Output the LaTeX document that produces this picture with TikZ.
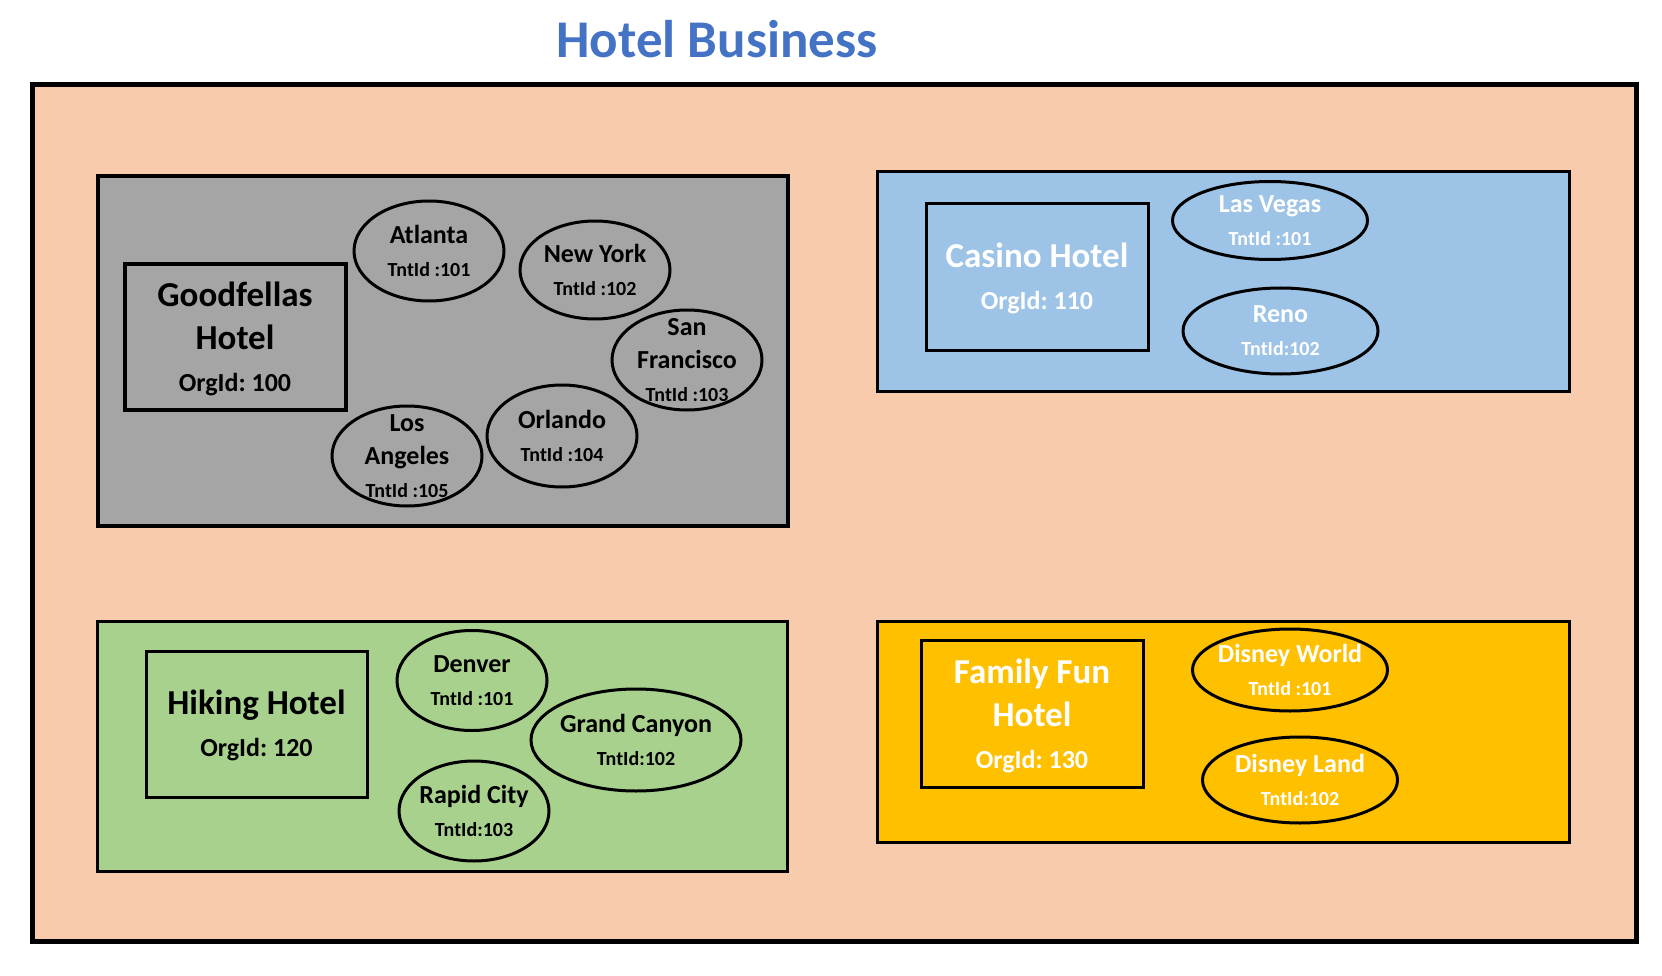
\documentclass[tikz,border=0pt]{standalone}
\usepackage{fontspec}
\setmainfont{Carlito}
\usetikzlibrary{shapes.geometric}
\definecolor{peach}{HTML}{F8CBAD}
\definecolor{panelgray}{HTML}{A5A5A5}
\definecolor{panelblue}{HTML}{9DC3E6}
\definecolor{panelgreen}{HTML}{A9D18E}
\definecolor{panelorange}{HTML}{FFC000}
\definecolor{titleblue}{HTML}{4472C4}
\newcommand\tnt[1]{{\fontsize{20}{24}\selectfont #1}}
\newcommand\org[1]{{\fontsize{26}{30}\selectfont #1}}
\frenchspacing
\begin{document}
\begin{tikzpicture}[x=1pt,y=-1pt,
  panel/.style={draw=black, rectangle, inner sep=0pt, line width=3pt},
  hotelbox/.style={draw=black, rectangle, inner sep=0pt, line width=3pt},
  city/.style={draw=black, ellipse, inner sep=0pt, line width=3pt},
  citytext/.style={font=\bfseries\fontsize{26}{33}\selectfont, align=center, inner sep=0pt},
  hoteltext/.style={font=\bfseries\fontsize{35}{43}\selectfont, align=center, inner sep=0pt, yshift=-1.5pt},
  whitetext/.style={text=white}
]
\useasboundingbox (0,0) rectangle (1662,976);
\node[font=\bfseries\fontsize{53}{60}\selectfont, text=titleblue, inner sep=0pt] (title) at (717,39) {Hotel Business};
\node[panel, fill=peach, line width=5pt, minimum width=1604pt, minimum height=856pt] (outer) at (834,513) {};

% Goodfellas
\node[panel, fill=panelgray, line width=4pt, minimum width=690pt, minimum height=350pt] (gpanel) at (442.5,351) {};
\node[hotelbox, line width=4pt, minimum width=221pt, minimum height=146pt,
  label={[hoteltext]center:{Goodfellas\\Hotel\\[-1pt]\org{OrgId: 100}}}] (ghotel) at (235,337) {};
\node[city, minimum width=150pt, minimum height=100pt, label={[citytext]center:{Atlanta\\\tnt{TntId :101}}}] (atl) at (429,251) {};
\node[city, minimum width=150pt, minimum height=98pt, label={[citytext]center:{New York\\\tnt{TntId :102}}}] (ny) at (595,270) {};
\node[city, minimum width=150pt, minimum height=100pt, label={[citytext]center:{San\\Francisco\\\tnt{TntId :103}}}] (sf) at (687,360) {};
\node[city, minimum width=150pt, minimum height=102pt, label={[citytext]center:{Orlando\\\tnt{TntId :104}}}] (orl) at (562,436) {};
\node[city, minimum width=150pt, minimum height=100pt, label={[citytext]center:{Los\\Angeles\\\tnt{TntId :105}}}] (la) at (407,456) {};

% Casino
\node[panel, fill=panelblue, minimum width=692pt, minimum height=219pt] (cpanel) at (1223,281.5) {};
\node[hotelbox, minimum width=222pt, minimum height=147.5pt,
  label={[hoteltext, whitetext]center:{Casino Hotel\\[-1pt]\org{OrgId: 110}}}] (chotel) at (1037,277) {};
\node[city, minimum width=195pt, minimum height=78pt, label={[citytext, whitetext]center:{Las Vegas\\\tnt{TntId :101}}}] (lv) at (1270,220.5) {};
\node[city, minimum width=195pt, minimum height=86pt, label={[citytext, whitetext]center:{Reno\\\tnt{TntId:102}}}] (reno) at (1280.5,331) {};

% Hiking
\node[panel, fill=panelgreen, minimum width=690pt, minimum height=250pt] (hpanel) at (442.5,746) {};
\node[hotelbox, minimum width=221pt, minimum height=146pt,
  label={[hoteltext]center:{Hiking Hotel\\[-1pt]\org{OrgId: 120}}}] (hhotel) at (256.5,724) {};
\node[city, minimum width=150pt, minimum height=100pt, label={[citytext]center:{Denver\\\tnt{TntId :101}}}] (den) at (472,680.5) {};
\node[city, minimum width=210pt, minimum height=102pt, label={[citytext]center:{Grand Canyon\\\tnt{TntId:102}}}] (gc) at (636,740) {};
\node[city, minimum width=150pt, minimum height=100pt, label={[citytext]center:{Rapid City\\\tnt{TntId:103}}}] (rc) at (474,811) {};

% Family Fun
\node[panel, fill=panelorange, minimum width=692pt, minimum height=221pt] (fpanel) at (1223,731.5) {};
\node[hotelbox, minimum width=222pt, minimum height=147.5pt,
  label={[hoteltext, whitetext]center:{Family Fun\\Hotel\\[-1pt]\org{OrgId: 130}}}] (fhotel) at (1032,714) {};
\node[city, minimum width=195pt, minimum height=82pt, label={[citytext, whitetext]center:{Disney World\\\tnt{TntId :101}}}] (dw) at (1290,670) {};
\node[city, minimum width=195pt, minimum height=86pt, label={[citytext, whitetext]center:{Disney Land\\\tnt{TntId:102}}}] (dl) at (1300,780) {};
\end{tikzpicture}
\end{document}
